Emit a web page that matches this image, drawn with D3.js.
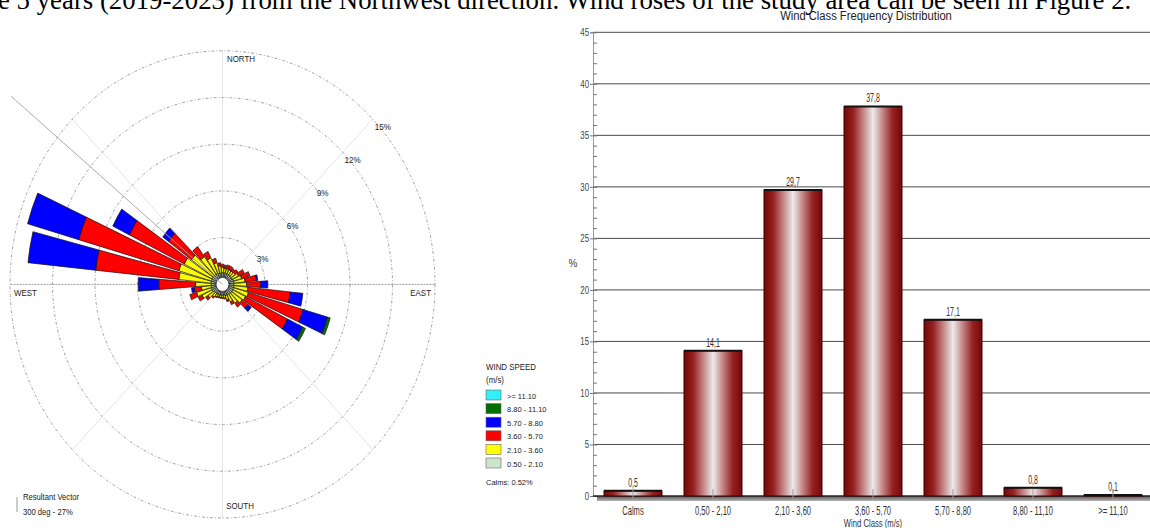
<!DOCTYPE html>
<html>
<head>
<meta charset="utf-8">
<script src="https://cdn.jsdelivr.net/npm/d3@7"></script>
<style>
  body { margin: 0; background: #fff; }
  svg { display: block; }
  .narrow { font-family: "Liberation Sans", Arial, sans-serif; }
  .rose-txt { font-family: "Liberation Sans", Arial, sans-serif; fill: #222; }
</style>
</head>
<body>
<div id="chart"></div>
<script>
// ---------------- data ----------------
// wind rose: 36 directions (deg, blowing from), frequency % per speed class
var directions = d3.range(10, 361, 10);
var speedClasses = ["0.50 - 2.10", "2.10 - 3.60", "3.60 - 5.70", "5.70 - 8.80", "8.80 - 11.10", ">= 11.10"];
var classColors = ["#cde5cd", "#ffff00", "#ff0000", "#0000ff", "#006e00", "#33f0f8"];
//               10    20    30    40    50    60    70    80    90    100   110   120   130   140   150   160   170   180   190   200   210   220   230   240   250   260   270   280   290   300   310   320   330   340   350   360
var ws050 = [0.3,  0.3,  0.3,  0.3,  0.3,  0.3,  0.35, 0.35, 0.35, 0.35, 0.35, 0.35, 0.35, 0.35, 0.3,  0.3,  0.25, 0.25, 0.25, 0.25, 0.25, 0.25, 0.3,  0.35, 0.35, 0.35, 0.35, 0.35, 0.35, 0.35, 0.35, 0.35, 0.35, 0.3,  0.3,  0.3];
var ws210 = [0.3,  0.3,  0.3,  0.3,  0.35, 0.5,  0.6,  0.8,  0.9,  1.0,  1.1,  1.0,  0.9,  0.7,  0.5,  0.3,  0.2,  0.15, 0.15, 0.15, 0.2,  0.3,  0.5,  0.8,  1.1,  0.7,  1.1,  2.3,  2.4,  2.2,  1.9,  1.4,  1.1,  0.7,  0.45, 0.35];
var ws360 = [0.2,  0.25, 0.25, 0.2,  0.25, 0.45, 0.6,  0.8,  1.0,  3.0,  4.0,  3.3,  0.5,  0.3,  0.2,  0.1,  0.05, 0.05, 0.05, 0.05, 0.05, 0.1,  0.2,  0.3,  0.5,  0.5,  2.6,  5.9,  7.35, 4.3,  2.0,  0.8,  0.45, 0.3,  0.2,  0.2];
var ws570 = [0,    0,    0,    0,    0,    0,    0,    0.1,  0.5,  0.9,  1.8,  1.2,  0.3,  0,    0,    0,    0,    0,    0,    0,    0,    0,    0,    0,    0,    0.2,  1.45, 4.8,  3.75, 1.3,  0.5,  0,    0,    0,    0,    0];
var ws880 = [0,    0,    0,    0,    0,    0,    0,    0,    0,    0,    0.2,  0.2,  0,    0,    0,    0,    0,    0,    0,    0,    0,    0,    0,    0,    0,    0,    0,    0,    0,    0,    0,    0,    0,    0,    0,    0];
var ws1110 = directions.map(function () { return 0; });
var roseRings = [3, 6, 9, 12, 15];
var calmsPct = 0.52;
var resultantDeg = 300, resultantPct = 27;

// frequency distribution bar chart
var barClasses = ["Calms", "0,50 - 2,10", "2,10 - 3,60", "3,60 - 5,70", "5,70 - 8,80", "8,80 - 11,10", ">= 11,10"];
var barValues = [0.5, 14.1, 29.7, 37.8, 17.1, 0.8, 0.1];
var barLabels = ["0,5", "14,1", "29,7", "37,8", "17,1", "0,8", "0,1"];
var yTicks = [0, 5, 10, 15, 20, 25, 30, 35, 40, 45];

var W = 1150, H = 528;
var svg = d3.select("#chart").append("svg").attr("width", W).attr("height", H);

// squeeze text horizontally around its own x (the figure font is a narrow one)
function squeeze(sel, s) {
  sel.attr("transform", function () {
    var t = d3.select(this), xx = +t.attr("x") || 0;
    return "translate(" + xx + ",0) scale(" + s + ",1) translate(" + (-xx) + ",0)";
  });
}

// top text line of the page (cut off)
svg.append("text")
  .attr("x", -2).attr("y", 9)
  .style("font-family", "'Liberation Serif', 'Times New Roman', serif")
  .style("font-size", "26.8px").style("fill", "#000")
  .text("e 5 years (2019-2023) from the Northwest direction. Wind roses of the study area can be seen in Figure 2.");

// ================= wind rose =================
var cx = 222.5, cy = 284.4, yStretch = 1.0993;
var r = d3.scaleLinear().domain([0, 15]).range([0, 212.5]);
var holePct = 0.45;
var rad = function (deg) { return deg * Math.PI / 180; };
// screen position for a direction / percentage
function pt(deg, pct) {
  return [cx + r(pct) * Math.sin(rad(deg)), cy - r(pct) * yStretch * Math.cos(rad(deg))];
}

var rose = svg.append("g")
  .attr("transform", "translate(" + cx + "," + cy + ") scale(1," + yStretch + ")");

// faint radial lines every 45 deg
rose.selectAll(".radial")
  .data(d3.range(0, 360, 45))
  .enter().append("line")
  .attr("x1", 0).attr("y1", 0)
  .attr("x2", function (d) { return r(15) * Math.sin(rad(d)); })
  .attr("y2", function (d) { return -r(15) * Math.cos(rad(d)); })
  .attr("stroke", function (d) { return d === 90 || d === 270 ? "#999" : "#e4e4e4"; })
  .attr("stroke-dasharray", function (d) { return d === 90 || d === 270 ? "2,1" : null; })
  .attr("stroke-width", 1)
  .attr("vector-effect", "non-scaling-stroke");

// rings
rose.selectAll(".ring")
  .data(roseRings)
  .enter().append("circle")
  .attr("r", function (d) { return r(d); })
  .attr("fill", "none")
  .attr("stroke", "#8a8a8a")
  .attr("stroke-width", 0.8)
  .attr("stroke-dasharray", "3,2,1,2")
  .attr("vector-effect", "non-scaling-stroke");

// resultant vector line (drawn at the direction it appears on the figure)
var resLine = pt(309, 19.2);
svg.append("line")
  .attr("x1", cx).attr("y1", cy)
  .attr("x2", resLine[0]).attr("y2", resLine[1])
  .attr("stroke", "#a0a0a0").attr("stroke-width", 0.9);

// petals
var classArrays = [ws050, ws210, ws360, ws570, ws880, ws1110];
var segs = [];
directions.forEach(function (dir, i) {
  var cum = holePct;
  classArrays.forEach(function (arr, k) {
    var v = arr[i];
    if (v > 0) {
      segs.push({ dir: dir, inner: cum, outer: cum + v, k: k });
      cum += v;
    }
  });
});
var arc = d3.arc()
  .innerRadius(function (d) { return r(d.inner); })
  .outerRadius(function (d) { return r(d.outer); })
  .startAngle(function (d) { return rad(d.dir - 4.2); })
  .endAngle(function (d) { return rad(d.dir + 4.2); });

rose.selectAll(".petal")
  .data(segs)
  .enter().append("path")
  .attr("d", arc)
  .attr("fill", function (d) { return classColors[d.k]; })
  .attr("stroke", "#111")
  .attr("stroke-width", 0.7)
  .attr("vector-effect", "non-scaling-stroke");

// calm circle
rose.append("circle")
  .attr("r", r(holePct))
  .attr("fill", "#fff")
  .attr("stroke", "#333")
  .attr("stroke-width", 0.8)
  .attr("vector-effect", "non-scaling-stroke");

// ring labels along NE diagonal
svg.selectAll(".ringlbl")
  .data(roseRings)
  .enter().append("text")
  .attr("class", "rose-txt")
  .attr("x", function (d) { return pt(45, d)[0] + 10; })
  .attr("y", function (d) { return pt(45, d)[1] + 11; })
  .attr("text-anchor", "middle")
  .style("font-size", "9px")
  .text(function (d) { return d + "%"; })
  .call(squeeze, 0.9);

// compass labels
var compass = [
  { t: "NORTH", x: 241, y: 62, a: "middle" },
  { t: "WEST", x: 14, y: 296, a: "start" },
  { t: "EAST", x: 431, y: 296, a: "end" },
  { t: "SOUTH", x: 240, y: 509, a: "middle" }
];
svg.selectAll(".compass")
  .data(compass)
  .enter().append("text")
  .attr("class", "rose-txt")
  .attr("x", function (d) { return d.x; })
  .attr("y", function (d) { return d.y; })
  .attr("text-anchor", function (d) { return d.a; })
  .style("font-size", "9px")
  .text(function (d) { return d.t; })
  .call(squeeze, 0.88);

// resultant vector note
svg.append("line")
  .attr("x1", 17).attr("x2", 17).attr("y1", 497).attr("y2", 512)
  .attr("stroke", "#999");
svg.append("text").attr("class", "rose-txt")
  .attr("x", 23).attr("y", 500).style("font-size", "8.5px")
  .text("Resultant Vector").call(squeeze, 0.9);
svg.append("text").attr("class", "rose-txt")
  .attr("x", 23).attr("y", 515).style("font-size", "8.5px")
  .text(resultantDeg + " deg - " + resultantPct + "%").call(squeeze, 0.9);

// legend
var lg = svg.append("g").attr("transform", "translate(486,0)");
lg.append("text").attr("class", "rose-txt").attr("y", 370).style("font-size", "8.5px").text("WIND SPEED").call(squeeze, 0.93);
lg.append("text").attr("class", "rose-txt").attr("y", 383).style("font-size", "8.5px").text("(m/s)").call(squeeze, 0.93);
var legendOrder = d3.range(speedClasses.length).reverse();
var legItem = lg.selectAll(".leg")
  .data(legendOrder)
  .enter().append("g")
  .attr("transform", function (d, i) { return "translate(0," + (390 + i * 13.6) + ")"; });
legItem.append("rect")
  .attr("width", 15).attr("height", 10)
  .attr("fill", function (d) { return classColors[d]; })
  .attr("stroke", "#666").attr("stroke-width", 0.6);
legItem.append("text")
  .attr("class", "rose-txt")
  .attr("x", 21).attr("y", 8.5)
  .style("font-size", "7.5px")
  .text(function (d) { return speedClasses[d]; });
lg.append("text").attr("class", "rose-txt").attr("y", 485).style("font-size", "7.5px")
  .text("Calms: " + calmsPct.toFixed(2) + "%");

// ================= bar chart =================
var x0 = 593, x1 = 1153, yBase = 496, yTop = 32.3;
var x = d3.scaleBand().domain(barClasses).range([x0, x1]).paddingInner(0.275).paddingOuter(0.1375);
var y = d3.scaleLinear().domain([0, 45]).range([yBase, yTop]);

var defs = svg.append("defs");
var grad = defs.append("linearGradient").attr("id", "barGrad")
  .attr("x1", "0%").attr("x2", "100%").attr("y1", "0%").attr("y2", "0%");
[["0%", "#760808"], ["16%", "#962020"], ["34%", "#c58a8a"], ["50%", "#ebebeb"], ["66%", "#c58a8a"], ["84%", "#962020"], ["100%", "#760808"]]
  .forEach(function (s) { grad.append("stop").attr("offset", s[0]).attr("stop-color", s[1]); });
var baseGrad = defs.append("linearGradient").attr("id", "baseGrad")
  .attr("x1", "0%").attr("x2", "0%").attr("y1", "0%").attr("y2", "100%");
[["0%", "#555"], ["100%", "#b5b5b5"]]
  .forEach(function (s) { baseGrad.append("stop").attr("offset", s[0]).attr("stop-color", s[1]); });

// title
svg.append("text").attr("class", "narrow")
  .attr("x", 866).attr("y", 20).attr("text-anchor", "middle")
  .style("font-size", "13.5px").style("fill", "#222")
  .text("Wind Class Frequency Distribution")
  .call(squeeze, 0.83);

// grid lines
svg.selectAll(".grid")
  .data(yTicks.slice(1))
  .enter().append("line")
  .attr("x1", x0).attr("x2", W)
  .attr("y1", function (d) { return y(d); })
  .attr("y2", function (d) { return y(d); })
  .attr("stroke", "#4a4a4a").attr("stroke-width", 1);

// y axis with major labels
var yAxis = svg.append("g")
  .attr("transform", "translate(" + x0 + ",0)")
  .call(d3.axisLeft(y).tickValues(yTicks).tickSize(3).tickPadding(1));
yAxis.select(".domain").attr("stroke", "#999");
yAxis.selectAll(".tick line").attr("stroke", "#777");
yAxis.selectAll(".tick text").attr("class", "narrow").style("font-size", "10.5px").attr("fill", "#444")
  .call(squeeze, 0.75);

// minor ticks
svg.append("g")
  .attr("transform", "translate(" + x0 + ",0)")
  .call(d3.axisRight(y).tickValues(d3.range(0, 46, 1)).tickSize(4).tickFormat(""))
  .call(function (g) { g.select(".domain").remove(); g.selectAll(".tick line").attr("stroke", "#777"); });

svg.append("text").attr("class", "narrow")
  .attr("x", 573).attr("y", 267).attr("text-anchor", "middle")
  .style("font-size", "10px").style("fill", "#444").text("%");

// base floor
svg.append("rect")
  .attr("x", 597).attr("y", yBase).attr("width", W - 597).attr("height", 5)
  .attr("fill", "url(#baseGrad)");
svg.append("line")
  .attr("x1", 593).attr("x2", W).attr("y1", yBase).attr("y2", yBase)
  .attr("stroke", "#222").attr("stroke-width", 1.5);

// bars
svg.selectAll(".bar")
  .data(barValues)
  .enter().append("rect")
  .attr("x", function (d, i) { return x(barClasses[i]); })
  .attr("width", x.bandwidth())
  .attr("y", function (d) { return y(d); })
  .attr("height", function (d) { return yBase - y(d); })
  .attr("fill", "url(#barGrad)")
  .attr("stroke", "#3a0000").attr("stroke-width", 1);
svg.selectAll(".bartop")
  .data(barValues)
  .enter().append("line")
  .attr("x1", function (d, i) { return x(barClasses[i]); })
  .attr("x2", function (d, i) { return x(barClasses[i]) + x.bandwidth(); })
  .attr("y1", function (d) { return y(d); })
  .attr("y2", function (d) { return y(d); })
  .attr("stroke", "#111").attr("stroke-width", 2);

// x tick marks at bar centres
svg.selectAll(".xtick")
  .data(barClasses)
  .enter().append("line")
  .attr("x1", function (d) { return x(d) + x.bandwidth() / 2; })
  .attr("x2", function (d) { return x(d) + x.bandwidth() / 2; })
  .attr("y1", yBase - 7).attr("y2", yBase + 4)
  .attr("stroke", "#999").attr("stroke-width", 1);

// value labels
svg.selectAll(".vlbl")
  .data(barValues)
  .enter().append("text").attr("class", "narrow")
  .attr("x", function (d, i) { return x(barClasses[i]) + x.bandwidth() / 2; })
  .attr("y", function (d) { return y(d) - 4; })
  .attr("text-anchor", "middle")
  .style("font-size", "12px").style("fill", "#333")
  .text(function (d, i) { return barLabels[i]; })
  .call(squeeze, 0.58);

// category labels
svg.selectAll(".xlbl")
  .data(barClasses)
  .enter().append("text").attr("class", "narrow")
  .attr("x", function (d) { return x(d) + x.bandwidth() / 2; })
  .attr("y", 515)
  .attr("text-anchor", "middle")
  .style("font-size", "12px").style("fill", "#333")
  .text(function (d) { return d; })
  .call(squeeze, 0.63);

svg.append("text").attr("class", "narrow")
  .attr("x", 873).attr("y", 527.5).attr("text-anchor", "middle")
  .style("font-size", "10.5px").style("fill", "#333")
  .text("Wind Class (m/s)")
  .call(squeeze, 0.73);
</script>
</body>
</html>
